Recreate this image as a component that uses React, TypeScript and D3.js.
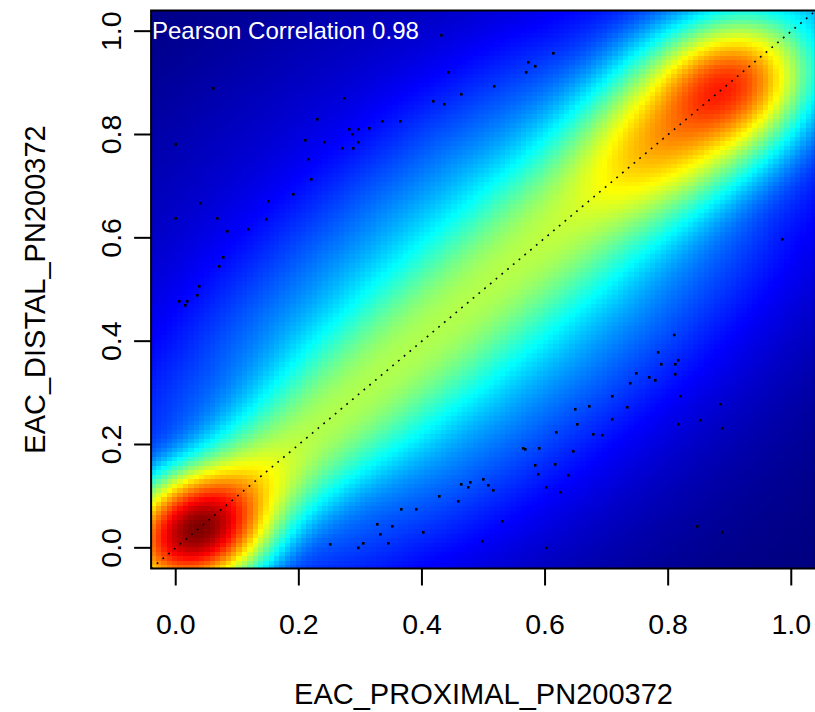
import React, { useMemo } from "react";
import * as d3 from "d3";

const W = 815;
const H = 712;

const xTicks = [0, 0.2, 0.4, 0.6, 0.8, 1.0];
const yTicks = [0, 0.2, 0.4, 0.6, 0.8, 1.0];
const xLabel = "EAC_PROXIMAL_PN200372";
const yLabel = "EAC_DISTAL_PN200372";
const annotation = "Pearson Correlation 0.98";

// the 100 low-density points drawn by smoothScatter
const pointX = [
  0.4315, 0.0611, 0.4428, 0.2739, 0.4184, 0.4363, 0.23, 0.3356, 0.3648, 0.282,
  0.2966, 0.3145, 0.2869, 0.0, 0.2105, 0.2414, 0.2966, 0.2706, 0.2885, 0.2154,
  0.2203, 0.191, 0.6134, 0.5728, 0.5841, 0.5695, 0.5175, 0.4639, 0.04, 0.1504,
  0.0, 0.0676, 0.1472, 0.0838, 0.1179, 0.0773, 0.0708, 0.0383, 0.0351, 0.0058,
  0.0188, 0.0156, 0.8099, 0.7839, 0.8164, 0.7888, 0.8116, 0.8116, 0.7482, 0.7693,
  0.7791, 0.7385, 0.7092, 0.8197, 0.6719, 0.6491, 0.7336, 0.8847, 0.6524, 0.7092,
  0.8164, 0.8522, 0.8879, 0.6183, 0.6784, 0.693, 0.5646, 0.5679, 0.5906, 0.6459,
  0.5841, 0.6166, 0.589, 0.6377, 0.4997, 0.5078, 0.5159, 0.602, 0.6248, 0.5305,
  0.8473, 0.8879, 0.4981, 0.602, 0.9854, 0.2511, 0.4639, 0.4786, 0.4753, 0.4282,
  0.4591, 0.3665, 0.3908, 0.3275, 0.3519, 0.3324, 0.4022, 0.3047, 0.2966, 0.3454,
];
const pointY = [
  0.9921, 0.8895, 0.9204, 0.8701, 0.8643, 0.8585, 0.8295, 0.8256, 0.8256, 0.8101,
  0.8101, 0.812, 0.8004, 0.7811, 0.7888, 0.7849, 0.7849, 0.7733, 0.7733, 0.752,
  0.7133, 0.6843, 0.9572, 0.9398, 0.9321, 0.9204, 0.8933, 0.8779, 0.6669, 0.6707,
  0.6378, 0.6378, 0.6359, 0.6127, 0.6165, 0.5623, 0.5449, 0.5062, 0.4888, 0.4772,
  0.4772, 0.4694, 0.4119, 0.3784, 0.363, 0.3552, 0.3552, 0.3359, 0.3378, 0.33,
  0.3242, 0.3184, 0.2933, 0.2933, 0.2739, 0.2681, 0.272, 0.2778, 0.2391, 0.2487,
  0.2391, 0.2468, 0.2313, 0.2236, 0.2197, 0.2178, 0.1926, 0.1907, 0.1926, 0.1868,
  0.1597, 0.1616, 0.1423, 0.1403, 0.1326, 0.121, 0.1113, 0.1171, 0.1074, 0.0513,
  0.0416, 0.03, 0.0126, 0.0, 0.5972, 0.0068, 0.1229, 0.1268, 0.1171, 0.0997,
  0.09, 0.0745, 0.0745, 0.0455, 0.0416, 0.0261, 0.03, 0.0087, 0.0, 0.0087,
];

// smoothed density description
// dense clusters: spread below / above the centre along the diagonal, and across it
const clusterX = [0.035, 0.09, 0.9, 0.84];
const clusterY = [0.035, 0.09, 0.9, 0.84];
const clusterSuLow = [0.055, 0.07, 0.06, 0.12];
const clusterSuHigh = [0.055, 0.07, 0.06, 0.08];
const clusterSv = [0.045, 0.045, 0.05, 0.06];
const clusterW = [0.75, 0.1, 0.27, 0.21];

// ridge along the diagonal
const ridgeS = [-0.1, 0.0, 0.1, 0.2, 0.3, 0.4, 0.5, 0.6, 0.7, 0.8, 0.9, 1.0, 1.1];
const ridgeCore = [0.025, 0.06, 0.075, 0.072, 0.065, 0.06, 0.06, 0.065, 0.068, 0.06, 0.04, 0.01, 0.0];
const ridgeCoreSv = [0.045, 0.045, 0.048, 0.055, 0.062, 0.065, 0.065, 0.065, 0.065, 0.065, 0.065, 0.065, 0.065];
const ridgeShoulder = [0, 0, 0.003, 0.007, 0.014, 0.019, 0.021, 0.019, 0.012, 0.005, 0.002, 0.0005, 0];
const shoulderSv = 0.12;

// faint off-diagonal groups
const bgX = [0.22, 0.65];
const bgY = [0.74, 0.25];
const bgSu = [0.25, 0.25];
const bgSv = [0.1, 0.1];
const bgW = [4e-5, 4e-5];

const jetColors = ["#00007F", "#0000FF", "#007FFF", "#00FFFF", "#7FFF7F", "#FFFF00", "#FF7F00", "#FF0000", "#7F0000"];

const NBIN = 128;
const GRID_MIN = -0.054;
const GRID_MAX = 1.054;

const FONT = "'Liberation Sans', Arial, Helvetica, sans-serif";

export default function App() {
  const x = d3.scaleLinear().domain([-0.04, 1.04]).range([151.1, 815.9]);
  const y = d3.scaleLinear().domain([-0.04, 1.04]).range([568.5, 10.5]);

  const cells = useMemo(() => {
    const coreH = d3.scaleLinear().domain(ridgeS).range(ridgeCore).clamp(true);
    const coreSv = d3.scaleLinear().domain(ridgeS).range(ridgeCoreSv).clamp(true);
    const shH = d3.scaleLinear().domain(ridgeS).range(ridgeShoulder).clamp(true);
    const R2 = Math.SQRT2;
    const bump = (u: number, v: number, cx: number, cy: number, suL: number, suH: number, sv: number) => {
      const cu = (cx + cy) / R2;
      const cv = (cy - cx) / R2;
      const su = u < cu ? suL : suH;
      return Math.exp(-((u - cu) ** 2) / (2 * su * su) - ((v - cv) ** 2) / (2 * sv * sv));
    };
    const dens = (px: number, py: number) => {
      const u = (px + py) / R2;
      const v = (py - px) / R2;
      const s = (px + py) / 2;
      let d = 0;
      for (let k = 0; k < clusterX.length; k++) {
        d += clusterW[k] * bump(u, v, clusterX[k], clusterY[k], clusterSuLow[k], clusterSuHigh[k], clusterSv[k]);
      }
      const csv = coreSv(s);
      d += coreH(s) * Math.exp(-(v * v) / (2 * csv * csv));
      d += shH(s) * Math.exp(-(v * v) / (2 * shoulderSv * shoulderSv));
      for (let k = 0; k < bgX.length; k++) {
        d += bgW[k] * bump(u, v, bgX[k], bgY[k], bgSu[k], bgSu[k], bgSv[k]);
      }
      return d;
    };
    const step = (GRID_MAX - GRID_MIN) / (NBIN - 1);
    const vals: { gx: number; gy: number; t: number }[] = [];
    for (let i = 0; i < NBIN; i++) {
      for (let j = 0; j < NBIN; j++) {
        const gx = GRID_MIN + i * step;
        const gy = GRID_MIN + j * step;
        vals.push({ gx, gy, t: Math.pow(dens(gx, gy), 0.25) });
      }
    }
    const [tmin, tmax] = d3.extent(vals, (d) => d.t) as [number, number];
    const color = d3
      .scaleLinear<string>()
      .domain(jetColors.map((_, i) => i / (jetColors.length - 1)))
      .range(jetColors)
      .interpolate(d3.interpolateRgb);
    return vals.map((c) => ({
      x0: x(c.gx - step / 2),
      x1: x(c.gx + step / 2),
      y0: y(c.gy + step / 2),
      y1: y(c.gy - step / 2),
      fill: color((c.t - tmin) / (tmax - tmin)),
    }));
  }, []);

  const left = x(-0.04);
  const right = x(1.04);
  const top = y(1.04);
  const bottom = y(-0.04);

  return (
    <svg width={W} height={H} style={{ position: "absolute", left: 0, top: 0, background: "#fff" }} fontFamily={FONT}>
      <defs>
        <clipPath id="plotClip">
          <rect x={left} y={top} width={right - left} height={bottom - top} />
        </clipPath>
      </defs>
      <g clipPath="url(#plotClip)" shapeRendering="crispEdges">
        {cells.map((c, i) => (
          <rect key={i} x={c.x0} y={c.y0} width={c.x1 - c.x0 + 0.6} height={c.y1 - c.y0 + 0.6} fill={c.fill} />
        ))}
      </g>
      <g clipPath="url(#plotClip)">
        {pointX.map((px, i) => (
          <rect key={i} x={x(px) - 1.3} y={y(pointY[i]) - 1.3} width={2.6} height={2.6} fill="#000" />
        ))}
        <line x1={x(-0.04)} y1={y(-0.04)} x2={x(1.04)} y2={y(1.04)} stroke="#000" strokeWidth={1.6} strokeDasharray="1.8 5.7" />
      </g>
      <rect x={left} y={top} width={right - left} height={bottom - top} fill="none" stroke="#000" strokeWidth={2} />
      {xTicks.map((t) => (
        <g key={"x" + t}>
          <line x1={x(t)} x2={x(t)} y1={bottom} y2={bottom + 17} stroke="#000" strokeWidth={2} />
          <text x={x(t)} y={633.5} textAnchor="middle" fontSize={28.5} fill="#000">
            {d3.format(".1f")(t)}
          </text>
        </g>
      ))}
      {yTicks.map((t) => (
        <g key={"y" + t}>
          <line x1={left - 17} x2={left} y1={y(t)} y2={y(t)} stroke="#000" strokeWidth={2} />
          <text transform={`translate(121,${y(t)}) rotate(-90)`} textAnchor="middle" fontSize={28.5} fill="#000">
            {d3.format(".1f")(t)}
          </text>
        </g>
      ))}
      <text x={(left + right) / 2} y={704} textAnchor="middle" fontSize={29} fill="#000">
        {xLabel}
      </text>
      <text transform={`translate(45,${(top + bottom) / 2}) rotate(-90)`} textAnchor="middle" fontSize={29} fill="#000">
        {yLabel}
      </text>
      <text x={152} y={39} fontSize={24} fill="#fff">
        {annotation}
      </text>
    </svg>
  );
}
